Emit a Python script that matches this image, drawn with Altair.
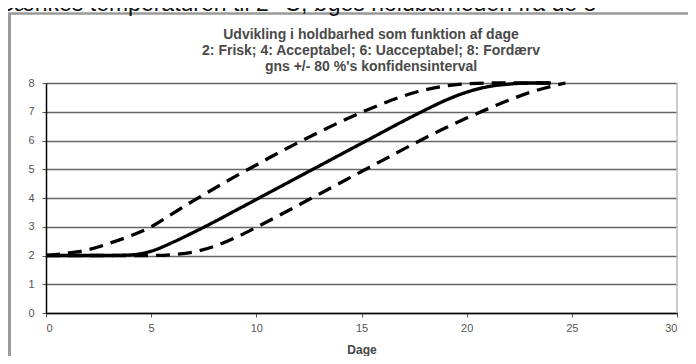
import altair as alt
import pandas as pd

# ---- data ----
days_mean = list(range(0, 25))
mean = [2, 2, 2, 2, 2.02, 2.15, 2.45, 2.8, 3.17, 3.56, 3.95, 4.34, 4.73, 5.12, 5.51,
        5.9, 6.29, 6.68, 7.05, 7.4, 7.68, 7.87, 7.96, 8, 8]
days_upper = list(range(0, 25))
upper = [2, 2.08, 2.2, 2.42, 2.68, 3.0, 3.45, 3.9, 4.33, 4.75, 5.15, 5.55, 5.93, 6.3,
         6.65, 6.98, 7.28, 7.55, 7.76, 7.9, 7.97, 8, 8, 8, 8]
days_lower = list(range(0, 25)) + [24.7]
lower = [2, 2, 2, 2, 2, 2, 2.03, 2.12, 2.32, 2.62, 2.98, 3.36, 3.75, 4.14, 4.53,
         4.92, 5.31, 5.7, 6.08, 6.44, 6.78, 7.1, 7.4, 7.67, 7.88, 8]

x_ticks = [0, 5, 10, 15, 20, 25, 30]
y_ticks = [0, 1, 2, 3, 4, 5, 6, 7, 8]

title_lines = [
    "Udvikling i holdbarhed som funktion af dage",
    "2: Frisk; 4: Acceptabel; 6: Uacceptabel; 8: Fordærv",
    "gns +/- 80 %'s konfidensinterval",
]
top_text = "Sænkes temperaturen til 2 °C, øges holdbarheden fra de 8"

rows = []
for d, v in zip(days_mean, mean):
    rows.append({"Dage": d, "v": v, "serie": "gns"})
for d, v in zip(days_upper, upper):
    rows.append({"Dage": d, "v": v, "serie": "øvre"})
for d, v in zip(days_lower, lower):
    rows.append({"Dage": d, "v": v, "serie": "nedre"})
df = pd.DataFrame(rows)

W, H = 631, 230
FONT = "Liberation Sans"

xscale = alt.Scale(domain=[0, 30], nice=False, zero=False)
yscale = alt.Scale(domain=[0, 8], nice=False)

lines = alt.Chart(df).mark_line(interpolate="monotone", strokeWidth=3.3, color="black").encode(
    x=alt.X("Dage:Q", scale=xscale,
            axis=alt.Axis(values=x_ticks, title="Dage", grid=False, domainColor="#000",
                          domainWidth=1.5, tickColor="#555", tickSize=4, labelPadding=5,
                          labelFontSize=11, labelColor="#555", titleFontSize=12,
                          titleColor="#444", titlePadding=11, titleFont=FONT,
                          labelFont=FONT, titleFontWeight="bold")),
    y=alt.Y("v:Q", scale=yscale,
            axis=alt.Axis(values=y_ticks, title=None, grid=True, gridColor="#666",
                          gridWidth=1.5, domainColor="#000", domainWidth=1.5,
                          tickColor="#555", tickSize=4, labelPadding=8,
                          labelFontSize=11, labelColor="#555", labelFont=FONT)),
    detail="serie:N",
    strokeDash=alt.StrokeDash("serie:N",
                              scale=alt.Scale(domain=["gns", "øvre", "nedre"],
                                              range=[[1, 0], [14, 8], [14, 8]]),
                              legend=None),
)

right_border = alt.Chart(pd.DataFrame({"x": [30]})).mark_rule(
    color="#bbb", strokeWidth=1.5).encode(
    x=alt.X("x:Q", scale=xscale), y=alt.value(0), y2=alt.value(H))

frame_left = alt.Chart(pd.DataFrame({"a": [0]})).mark_rule(color="#9a9a9a", strokeWidth=3).encode(
    x=alt.value(-36.5), y=alt.value(-70), y2=alt.value(H + 60))
frame_top = alt.Chart(pd.DataFrame({"a": [0]})).mark_rule(color="#9a9a9a", strokeWidth=2.5).encode(
    x=alt.value(-38), x2=alt.value(W + 20), y=alt.value(-69.5))

title_layers = []
for i, t in enumerate(title_lines):
    title_layers.append(
        alt.Chart(pd.DataFrame({"t": [t]})).mark_text(
            fontSize=14, fontWeight="bold", font=FONT, color="#4a4a4a",
            align="center", baseline="middle"
        ).encode(x=alt.value(325), y=alt.value(-48 + i * 16), text="t:N")
    )

topline = alt.Chart(pd.DataFrame({"t": [top_text]})).mark_text(
    fontSize=23, font=FONT, color="#111", align="left", baseline="alphabetic"
).encode(x=alt.value(-47), y=alt.value(-72), text="t:N")

chart = alt.layer(
    frame_left, frame_top, topline, *title_layers, right_border, lines
).properties(
    width=W, height=H,
    autosize=alt.AutoSizeParams(type="none"),
    padding={"left": 38, "top": 75, "right": 11, "bottom": 43},
    background="white",
).configure_view(stroke=None)

chart.save("out.html", embed_options={"renderer": "svg", "actions": False})
